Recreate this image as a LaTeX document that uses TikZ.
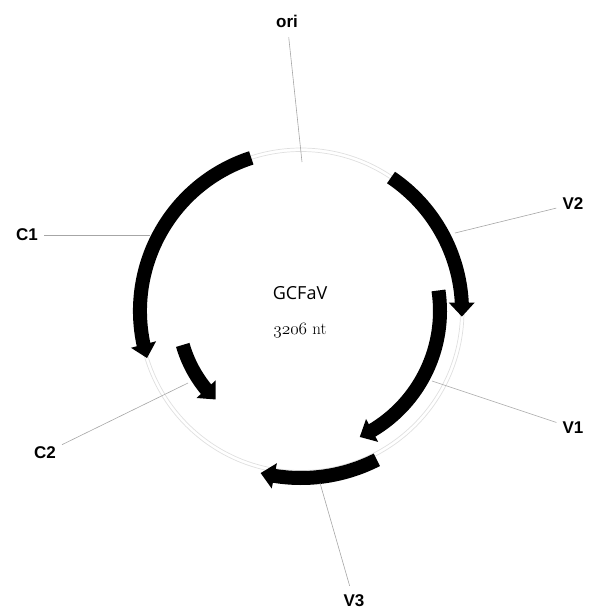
\documentclass[tikz,border=0pt]{standalone}
\usepackage{fontspec}
\usetikzlibrary{arrows.meta,bending}
\newfontfamily\lblfont{Liberation Sans}
\newfontfamily\namefont{Open Sans}

\begin{document}
\begin{tikzpicture}[x=1pt,y=1pt,
  gene/.style={line width=14pt,-{Triangle[width=25pt,length=14pt]}},
  backbone/.style={draw=gray!25,line width=0.7pt},
  leader/.style={draw=gray!70,line width=0.6pt},
  lbl/.style={font=\lblfont\bfseries\fontsize{17}{20}\selectfont,inner sep=6pt}]
\useasboundingbox (0,0) rectangle (590,-613);
\coordinate (cen) at (301,-311);

\draw[backbone] (cen) circle[radius=159.5];
\draw[backbone] (cen) circle[radius=163];%le squelette

\draw[gene] ([shift={(108:161)}]cen) arc[start angle=108,end angle=197,radius=161];%C1
\draw[gene] ([shift={(196:123)}]cen) arc[start angle=196,end angle=226,radius=123];%C2
\draw[gene] ([shift={(56:161)}]cen) arc[start angle=56,end angle=-2,radius=161];%V2
\draw[gene] ([shift={(8.5:139)}]cen) arc[start angle=8.5,end angle=-65,radius=139];%V1
\draw[gene] ([shift={(-63:167)}]cen) arc[start angle=-63,end angle=-104,radius=167];%V3

\node[font=\namefont\fontsize{18}{20}\selectfont] (name) at (300,-293) {GCFaV};
\node[font=\fontsize{17}{19}\selectfont] (len) at (300,-331) {$\mathnormal{3206}$ nt};

\node[lbl] (ori) at (287,-21) {ori};
\node[lbl] (C1) at (27,-235) {C1};
\node[lbl] (C2) at (45,-453) {C2};
\node[lbl] (V2) at (573,-204) {V2};
\node[lbl] (V1) at (573,-428) {V1};
\node[lbl] (V3) at (354,-601) {V3};

\coordinate (ori-pt) at (302,-162);
\coordinate (C1-pt) at (150,-235);
\coordinate (C2-pt) at (188,-383);
\coordinate (V2-pt) at (455,-233);
\coordinate (V1-pt) at (432,-381);
\coordinate (V3-pt) at (320,-483);

\draw[leader,shorten <=4pt] (ori) -- (ori-pt);%les traits
\draw[leader] (C1) -- (C1-pt);
\draw[leader] (C2) -- (C2-pt);
\draw[leader] (V2) -- (V2-pt);
\draw[leader] (V1) -- (V1-pt);
\draw[leader,shorten <=3pt] (V3) -- (V3-pt);
\end{tikzpicture}
\end{document}
